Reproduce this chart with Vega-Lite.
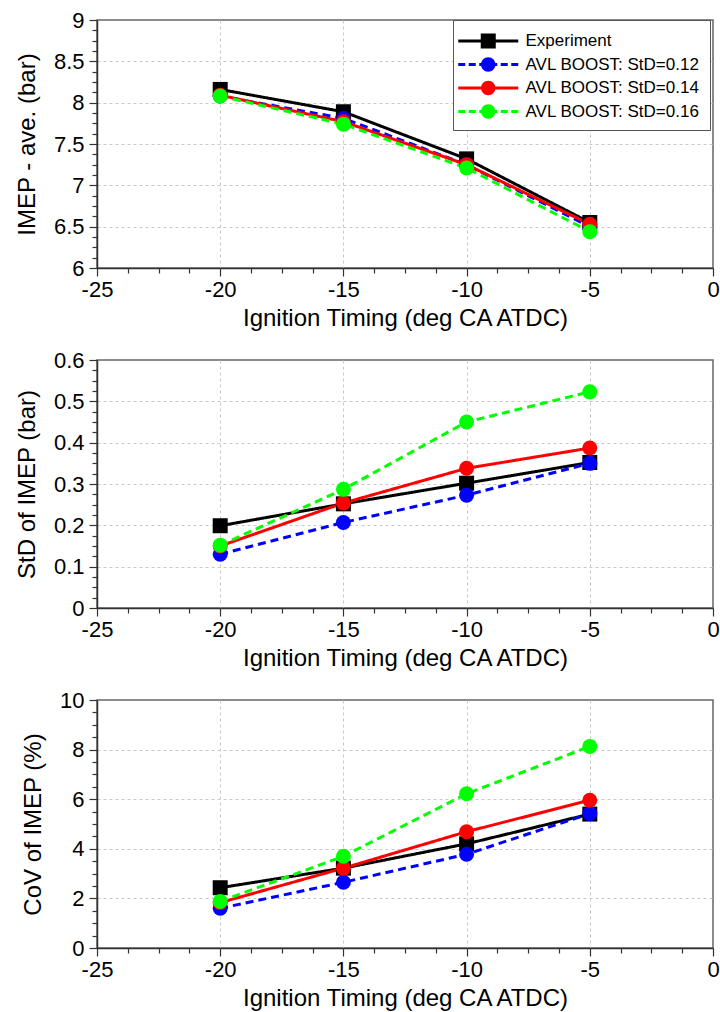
{
  "$schema": "https://vega.github.io/schema/vega-lite/v6.json",
  "padding": {"left": 14, "top": 8, "right": 0, "bottom": 0},
  "spacing": 92,
  "bounds": "flush",
  "background": "white",
  "datasets": {
    "d": [
      {"timing": -20, "series": "Experiment", "imep": 8.16, "std": 0.199, "cov": 2.43},
      {"timing": -15, "series": "Experiment", "imep": 7.89, "std": 0.252, "cov": 3.22},
      {"timing": -10, "series": "Experiment", "imep": 7.32, "std": 0.302, "cov": 4.2},
      {"timing": -5, "series": "Experiment", "imep": 6.55, "std": 0.352, "cov": 5.4},
      {"timing": -20, "series": "AVL BOOST: StD=0.12", "imep": 8.08, "std": 0.13, "cov": 1.6},
      {"timing": -15, "series": "AVL BOOST: StD=0.12", "imep": 7.81, "std": 0.207, "cov": 2.65},
      {"timing": -10, "series": "AVL BOOST: StD=0.12", "imep": 7.25, "std": 0.273, "cov": 3.78},
      {"timing": -5, "series": "AVL BOOST: StD=0.12", "imep": 6.5, "std": 0.35, "cov": 5.42},
      {"timing": -20, "series": "AVL BOOST: StD=0.14", "imep": 8.09, "std": 0.15, "cov": 1.83},
      {"timing": -15, "series": "AVL BOOST: StD=0.14", "imep": 7.77, "std": 0.254, "cov": 3.22},
      {"timing": -10, "series": "AVL BOOST: StD=0.14", "imep": 7.25, "std": 0.338, "cov": 4.69},
      {"timing": -5, "series": "AVL BOOST: StD=0.14", "imep": 6.53, "std": 0.387, "cov": 5.96},
      {"timing": -20, "series": "AVL BOOST: StD=0.16", "imep": 8.08, "std": 0.152, "cov": 1.88},
      {"timing": -15, "series": "AVL BOOST: StD=0.16", "imep": 7.74, "std": 0.287, "cov": 3.7},
      {"timing": -10, "series": "AVL BOOST: StD=0.16", "imep": 7.21, "std": 0.45, "cov": 6.22},
      {"timing": -5, "series": "AVL BOOST: StD=0.16", "imep": 6.44, "std": 0.523, "cov": 8.13}
    ]
  },
  "config": {
    "font": "Liberation Sans",
    "view": {"stroke": "#666666", "strokeWidth": 1.5},
    "axis": {
      "domainColor": "#333333",
      "domainWidth": 1.5,
      "tickColor": "#333333",
      "tickWidth": 1.2,
      "tickSize": 8,
      "labelFont": "Liberation Sans",
      "labelFontSize": 22,
      "labelColor": "#000000",
      "titleFont": "Liberation Sans",
      "titleFontSize": 24,
      "titleFontWeight": "normal",
      "titleColor": "#000000",
      "gridColor": "#c8c8c8",
      "gridDash": [3, 3],
      "gridWidth": 1,
      "labelFlush": false,
      "labelOverlap": false
    }
  },
  "resolve": {
    "scale": {"color": "independent", "strokeDash": "independent", "shape": "independent"}
  },
  "vconcat": [
    {
      "width": 616,
      "height": 248,
      "data": {"name": "d"},
      "resolve": {"axis": {"x": "independent", "y": "independent"}},
      "layer": [
        {
          "transform": [{"filter": "false"}],
          "mark": {"type": "point", "filled": true, "opacity": 1, "size": 462.25, "strokeWidth": 0},
          "encoding": {
            "x": {"field": "timing", "type": "quantitative", "scale": {"domain": [-25, 0], "nice": false, "zero": false}, "axis": null},
            "y": {"field": "imep", "type": "quantitative", "scale": {"domain": [6, 9], "nice": false, "zero": false}, "axis": null},
            "color": {"field": "series", "type": "nominal",
              "scale": {"domain": ["Experiment", "AVL BOOST: StD=0.12", "AVL BOOST: StD=0.14", "AVL BOOST: StD=0.16"], "range": ["#000000", "#0000ff", "#ff0000", "#00ff00"]},
              "legend": {"orient": "none", "legendX": 356, "legendY": 0, "title": null, "padding": 10,
                "fillColor": "white", "strokeColor": "#555555",
                "labelFont": "Liberation Sans", "labelFontSize": 17, "labelColor": "#000000", "labelLimit": 0,
                "symbolSize": 462.25, "symbolStrokeWidth": 0, "labelOffset": 40.5, "rowPadding": 4.5}},
            "shape": {"field": "series", "type": "nominal",
              "scale": {"domain": ["Experiment", "AVL BOOST: StD=0.12", "AVL BOOST: StD=0.14", "AVL BOOST: StD=0.16"],
                "range": [
                  "M-1.465,-0.14H4.116V0.14H-1.465ZM0.628,-0.698H2.024V0.698H0.628Z",
                  "M-1.465,-0.14H-0.814V0.14H-1.465ZM-0.488,-0.14H0.163V0.14H-0.488ZM0.488,-0.14H1.14V0.14H0.488ZM1.512,-0.14H2.163V0.14H1.512ZM2.488,-0.14H3.14V0.14H2.488ZM3.465,-0.14H4.116V0.14H3.465ZM2,0A0.674,0.674,0,1,1,0.652,0A0.674,0.674,0,1,1,2,0Z",
                  "M-1.465,-0.14H4.116V0.14H-1.465ZM2,0A0.674,0.674,0,1,1,0.652,0A0.674,0.674,0,1,1,2,0Z",
                  "M-1.465,-0.14H-0.814V0.14H-1.465ZM-0.488,-0.14H0.163V0.14H-0.488ZM0.488,-0.14H1.14V0.14H0.488ZM1.512,-0.14H2.163V0.14H1.512ZM2.488,-0.14H3.14V0.14H2.488ZM3.465,-0.14H4.116V0.14H3.465ZM2,0A0.674,0.674,0,1,1,0.652,0A0.674,0.674,0,1,1,2,0Z"
                ]},
              "legend": {"orient": "none", "legendX": 356, "legendY": 0, "title": null, "padding": 10,
                "fillColor": "white", "strokeColor": "#555555",
                "labelFont": "Liberation Sans", "labelFontSize": 17, "labelColor": "#000000", "labelLimit": 0,
                "symbolSize": 462.25, "symbolStrokeWidth": 0, "labelOffset": 40.5, "rowPadding": 4.5}}
          }
        },
        {
          "mark": {"type": "line", "strokeWidth": 3},
          "encoding": {
            "x": {"field": "timing", "type": "quantitative", "scale": {"domain": [-25, 0], "nice": false, "zero": false},
              "axis": {"orient": "bottom", "values": [-25, -20, -15, -10, -5, 0], "title": "Ignition Timing (deg CA ATDC)", "labelExpr": "datum.value + ''", "labelPadding": 3, "titlePadding": 6, "grid": true,
                "gridOpacity": {"condition": {"test": "datum.value === -25 || datum.value === 0", "value": 0}, "value": 1}}},
            "y": {"field": "imep", "type": "quantitative", "scale": {"domain": [6, 9], "nice": false, "zero": false},
              "axis": {"orient": "left", "values": [6, 6.5, 7, 7.5, 8, 8.5, 9], "title": "IMEP - ave. (bar)", "labelExpr": "datum.value + ''", "labelPadding": 5, "titlePadding": 14, "grid": true,
                "gridOpacity": {"condition": {"test": "datum.value === 6 || datum.value === 9", "value": 0}, "value": 1}}},
            "color": {"field": "series", "type": "nominal",
              "scale": {"domain": ["Experiment", "AVL BOOST: StD=0.12", "AVL BOOST: StD=0.14", "AVL BOOST: StD=0.16"], "range": ["#000000", "#0000ff", "#ff0000", "#00ff00"]}},
            "strokeDash": {"field": "series", "type": "nominal",
              "scale": {"domain": ["Experiment", "AVL BOOST: StD=0.12", "AVL BOOST: StD=0.14", "AVL BOOST: StD=0.16"], "range": [[1, 0], [8, 5], [1, 0], [8, 5]]}}
          }
        },
        {
          "transform": [{"filter": "datum.series === 'Experiment'"}],
          "mark": {"type": "point", "filled": true, "opacity": 1, "size": 225, "shape": "square"},
          "encoding": {
            "x": {"field": "timing", "type": "quantitative", "scale": {"domain": [-25, 0], "nice": false, "zero": false},
              "axis": {"orient": "bottom", "values": [-23.75, -22.5, -21.25, -18.75, -17.5, -16.25, -13.75, -12.5, -11.25, -8.75, -7.5, -6.25, -3.75, -2.5, -1.25], "labels": false, "grid": false, "domain": false, "tickSize": 5, "title": null}},
            "y": {"field": "imep", "type": "quantitative", "scale": {"domain": [6, 9], "nice": false, "zero": false},
              "axis": {"orient": "left", "values": [6.125, 6.25, 6.375, 6.625, 6.75, 6.875, 7.125, 7.25, 7.375, 7.625, 7.75, 7.875, 8.125, 8.25, 8.375, 8.625, 8.75, 8.875], "labels": false, "grid": false, "domain": false, "tickSize": 5, "title": null}},
            "color": {"field": "series", "type": "nominal",
              "scale": {"domain": ["Experiment", "AVL BOOST: StD=0.12", "AVL BOOST: StD=0.14", "AVL BOOST: StD=0.16"], "range": ["#000000", "#0000ff", "#ff0000", "#00ff00"]}}
          }
        },
        {
          "transform": [{"filter": "datum.series !== 'Experiment'"}],
          "mark": {"type": "point", "filled": true, "opacity": 1, "size": 225, "shape": "circle"},
          "encoding": {
            "x": {"field": "timing", "type": "quantitative", "scale": {"domain": [-25, 0], "nice": false, "zero": false}, "axis": null},
            "y": {"field": "imep", "type": "quantitative", "scale": {"domain": [6, 9], "nice": false, "zero": false}, "axis": null},
            "color": {"field": "series", "type": "nominal",
              "scale": {"domain": ["Experiment", "AVL BOOST: StD=0.12", "AVL BOOST: StD=0.14", "AVL BOOST: StD=0.16"], "range": ["#000000", "#0000ff", "#ff0000", "#00ff00"]}}
          }
        }
      ]
    },
    {
      "width": 616,
      "height": 248,
      "data": {"name": "d"},
      "resolve": {"axis": {"x": "independent", "y": "independent"}},
      "layer": [
        {
          "mark": {"type": "line", "strokeWidth": 3},
          "encoding": {
            "x": {"field": "timing", "type": "quantitative", "scale": {"domain": [-25, 0], "nice": false, "zero": false},
              "axis": {"orient": "bottom", "values": [-25, -20, -15, -10, -5, 0], "title": "Ignition Timing (deg CA ATDC)", "labelExpr": "datum.value + ''", "labelPadding": 3, "titlePadding": 6, "grid": true,
                "gridOpacity": {"condition": {"test": "datum.value === -25 || datum.value === 0", "value": 0}, "value": 1}}},
            "y": {"field": "std", "type": "quantitative", "scale": {"domain": [0, 0.6], "nice": false, "zero": false},
              "axis": {"orient": "left", "values": [0, 0.1, 0.2, 0.3, 0.4, 0.5, 0.6], "title": "StD of IMEP (bar)", "labelExpr": "datum.value + ''", "labelPadding": 5, "titlePadding": 14, "grid": true,
                "gridOpacity": {"condition": {"test": "datum.value === 0 || datum.value === 0.6", "value": 0}, "value": 1}}},
            "color": {"field": "series", "type": "nominal",
              "scale": {"domain": ["Experiment", "AVL BOOST: StD=0.12", "AVL BOOST: StD=0.14", "AVL BOOST: StD=0.16"], "range": ["#000000", "#0000ff", "#ff0000", "#00ff00"]},
              "legend": null},
            "strokeDash": {"field": "series", "type": "nominal",
              "scale": {"domain": ["Experiment", "AVL BOOST: StD=0.12", "AVL BOOST: StD=0.14", "AVL BOOST: StD=0.16"], "range": [[1, 0], [8, 5], [1, 0], [8, 5]]},
              "legend": null}
          }
        },
        {
          "transform": [{"filter": "datum.series === 'Experiment'"}],
          "mark": {"type": "point", "filled": true, "opacity": 1, "size": 225, "shape": "square"},
          "encoding": {
            "x": {"field": "timing", "type": "quantitative", "scale": {"domain": [-25, 0], "nice": false, "zero": false},
              "axis": {"orient": "bottom", "values": [-23.75, -22.5, -21.25, -18.75, -17.5, -16.25, -13.75, -12.5, -11.25, -8.75, -7.5, -6.25, -3.75, -2.5, -1.25], "labels": false, "grid": false, "domain": false, "tickSize": 5, "title": null}},
            "y": {"field": "std", "type": "quantitative", "scale": {"domain": [0, 0.6], "nice": false, "zero": false},
              "axis": {"orient": "left", "values": [0.025, 0.05, 0.075, 0.125, 0.15, 0.175, 0.225, 0.25, 0.275, 0.325, 0.35, 0.375, 0.425, 0.45, 0.475, 0.525, 0.55, 0.575], "labels": false, "grid": false, "domain": false, "tickSize": 5, "title": null}},
            "color": {"field": "series", "type": "nominal",
              "scale": {"domain": ["Experiment", "AVL BOOST: StD=0.12", "AVL BOOST: StD=0.14", "AVL BOOST: StD=0.16"], "range": ["#000000", "#0000ff", "#ff0000", "#00ff00"]},
              "legend": null}
          }
        },
        {
          "transform": [{"filter": "datum.series !== 'Experiment'"}],
          "mark": {"type": "point", "filled": true, "opacity": 1, "size": 225, "shape": "circle"},
          "encoding": {
            "x": {"field": "timing", "type": "quantitative", "scale": {"domain": [-25, 0], "nice": false, "zero": false}, "axis": null},
            "y": {"field": "std", "type": "quantitative", "scale": {"domain": [0, 0.6], "nice": false, "zero": false}, "axis": null},
            "color": {"field": "series", "type": "nominal",
              "scale": {"domain": ["Experiment", "AVL BOOST: StD=0.12", "AVL BOOST: StD=0.14", "AVL BOOST: StD=0.16"], "range": ["#000000", "#0000ff", "#ff0000", "#00ff00"]},
              "legend": null}
          }
        }
      ]
    },
    {
      "width": 616,
      "height": 248,
      "data": {"name": "d"},
      "resolve": {"axis": {"x": "independent", "y": "independent"}},
      "layer": [
        {
          "mark": {"type": "line", "strokeWidth": 3},
          "encoding": {
            "x": {"field": "timing", "type": "quantitative", "scale": {"domain": [-25, 0], "nice": false, "zero": false},
              "axis": {"orient": "bottom", "values": [-25, -20, -15, -10, -5, 0], "title": "Ignition Timing (deg CA ATDC)", "labelExpr": "datum.value + ''", "labelPadding": 3, "titlePadding": 6, "grid": true,
                "gridOpacity": {"condition": {"test": "datum.value === -25 || datum.value === 0", "value": 0}, "value": 1}}},
            "y": {"field": "cov", "type": "quantitative", "scale": {"domain": [0, 10], "nice": false, "zero": false},
              "axis": {"orient": "left", "values": [0, 2, 4, 6, 8, 10], "title": "CoV of IMEP (%)", "labelExpr": "datum.value + ''", "labelPadding": 5, "titlePadding": 14, "grid": true,
                "gridOpacity": {"condition": {"test": "datum.value === 0 || datum.value === 10", "value": 0}, "value": 1}}},
            "color": {"field": "series", "type": "nominal",
              "scale": {"domain": ["Experiment", "AVL BOOST: StD=0.12", "AVL BOOST: StD=0.14", "AVL BOOST: StD=0.16"], "range": ["#000000", "#0000ff", "#ff0000", "#00ff00"]},
              "legend": null},
            "strokeDash": {"field": "series", "type": "nominal",
              "scale": {"domain": ["Experiment", "AVL BOOST: StD=0.12", "AVL BOOST: StD=0.14", "AVL BOOST: StD=0.16"], "range": [[1, 0], [8, 5], [1, 0], [8, 5]]},
              "legend": null}
          }
        },
        {
          "transform": [{"filter": "datum.series === 'Experiment'"}],
          "mark": {"type": "point", "filled": true, "opacity": 1, "size": 225, "shape": "square"},
          "encoding": {
            "x": {"field": "timing", "type": "quantitative", "scale": {"domain": [-25, 0], "nice": false, "zero": false},
              "axis": {"orient": "bottom", "values": [-23.75, -22.5, -21.25, -18.75, -17.5, -16.25, -13.75, -12.5, -11.25, -8.75, -7.5, -6.25, -3.75, -2.5, -1.25], "labels": false, "grid": false, "domain": false, "tickSize": 5, "title": null}},
            "y": {"field": "cov", "type": "quantitative", "scale": {"domain": [0, 10], "nice": false, "zero": false},
              "axis": {"orient": "left", "values": [0.5, 1, 1.5, 2.5, 3, 3.5, 4.5, 5, 5.5, 6.5, 7, 7.5, 8.5, 9, 9.5], "labels": false, "grid": false, "domain": false, "tickSize": 5, "title": null}},
            "color": {"field": "series", "type": "nominal",
              "scale": {"domain": ["Experiment", "AVL BOOST: StD=0.12", "AVL BOOST: StD=0.14", "AVL BOOST: StD=0.16"], "range": ["#000000", "#0000ff", "#ff0000", "#00ff00"]},
              "legend": null}
          }
        },
        {
          "transform": [{"filter": "datum.series !== 'Experiment'"}],
          "mark": {"type": "point", "filled": true, "opacity": 1, "size": 225, "shape": "circle"},
          "encoding": {
            "x": {"field": "timing", "type": "quantitative", "scale": {"domain": [-25, 0], "nice": false, "zero": false}, "axis": null},
            "y": {"field": "cov", "type": "quantitative", "scale": {"domain": [0, 10], "nice": false, "zero": false}, "axis": null},
            "color": {"field": "series", "type": "nominal",
              "scale": {"domain": ["Experiment", "AVL BOOST: StD=0.12", "AVL BOOST: StD=0.14", "AVL BOOST: StD=0.16"], "range": ["#000000", "#0000ff", "#ff0000", "#00ff00"]},
              "legend": null}
          }
        }
      ]
    }
  ]
}
